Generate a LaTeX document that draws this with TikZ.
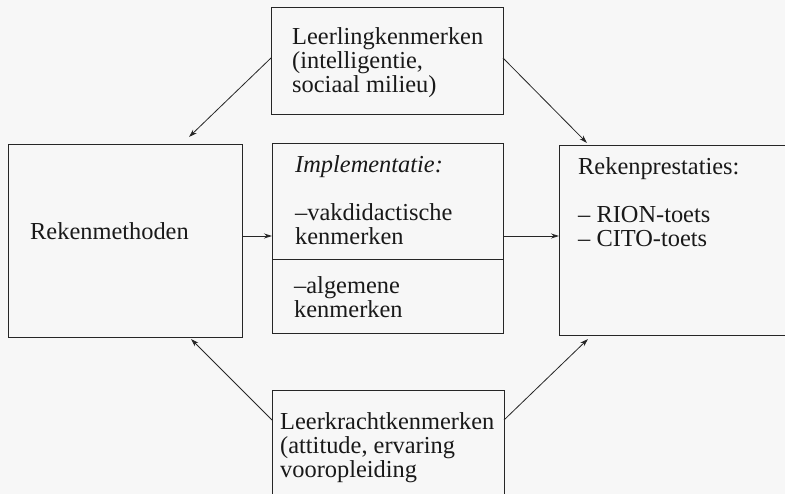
\documentclass[tikz,border=0pt]{standalone}
\usepackage{fontspec}
\setmainfont{Liberation Serif}
\usetikzlibrary{arrows.meta}
\begin{document}
\begin{tikzpicture}[x=1pt,y=-1pt,
  box/.style={draw=black!85,line width=0.9pt,minimum width=#1,inner sep=0pt,anchor=north west},
  txt/.style={anchor=base west,inner sep=0pt,align=left,font=\fontsize{24.4}{24}\selectfont,text=black!90},
  arr/.style={draw=black!85,line width=0.8pt,-{Stealth[length=8pt,width=5pt]}}]
\fill[black!3] (0,0) rectangle (785,494);
\useasboundingbox (0,0) rectangle (785,494);
% boxes
\node[box=232pt,minimum height=107pt] (top) at (271,7) {};
\node[box=234pt,minimum height=193pt] (left) at (8,144) {};
\node[box=231pt,minimum height=116pt] (impl) at (272,143) {};
\node[box=231pt,minimum height=74pt] (alg) at (272,259) {};
\node[box=240pt,minimum height=190pt] (right) at (559,145) {};
\node[box=232pt,minimum height=120pt] (bot) at (272,390) {};
% texts (base = baseline of last line)
\node[txt] (ttop) at (292,93) {Leerlingkenmerken\\(intelligentie,\\sociaal milieu)};
\node[txt] (tleft) at (30,240) {Rekenmethoden};
\node[txt] (timpl) at (295,245) {\textit{Implementatie:}\\[24pt]–vakdidactische\\kenmerken};
\node[txt] (talg) at (294,318) {–algemene\\kenmerken};
\node[txt] (tright) at (578,247) {Rekenprestaties:\\[24pt]– RION-toets\\– CITO-toets};
\node[txt] (tbot) at (280,477) {Leerkrachtkenmerken\\(attitude, ervaring\\vooropleiding};
% connectors
\coordinate (a1) at (271,58);
\coordinate (a2) at (503,58);
\draw[arr] (a1) -- (189,137);
\draw[arr] (a2) -- (587,143);
\draw[arr] (left.east |- 0,236) -- (impl.west |- 0,236);
\draw[arr] (impl.east |- 0,236) -- (right.west |- 0,236);
\coordinate (b1) at (272,420);
\coordinate (b2) at (504,420);
\draw[arr] (b1) -- (191,339);
\draw[arr] (b2) -- (588,339);
\end{tikzpicture}
\end{document}
